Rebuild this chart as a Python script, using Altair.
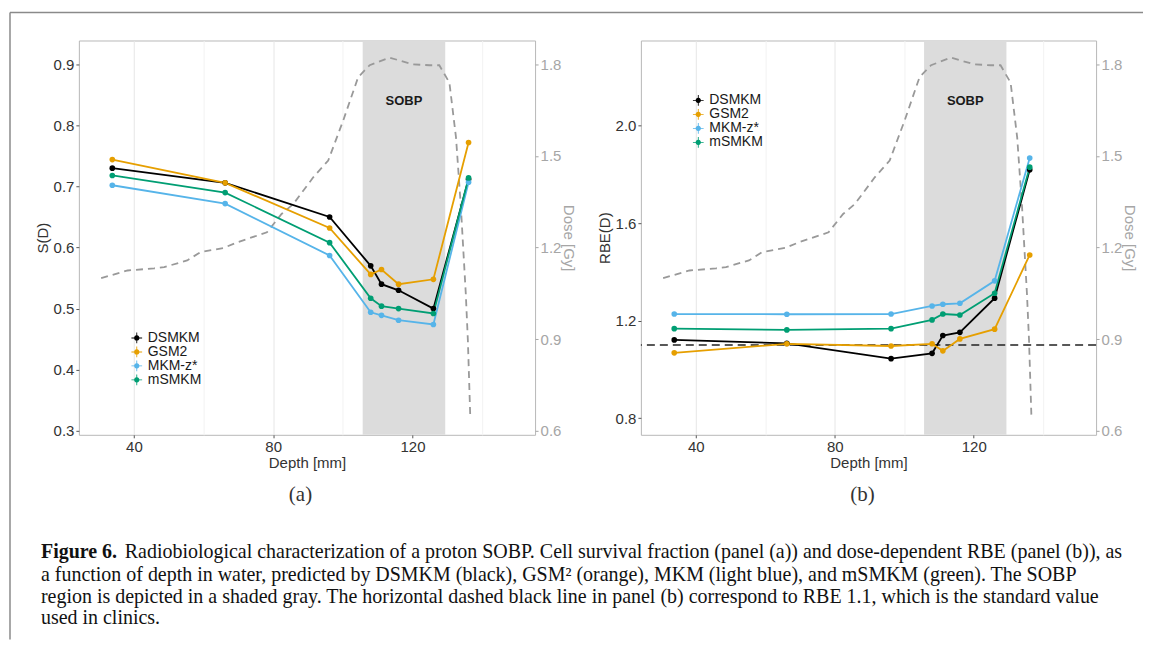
import altair as alt
import pandas as pd

# ---------------- data ----------------
models = ["DSMKM", "GSM2", "MKM-z*", "mSMKM"]
model_colors = ["#000000", "#E69F00", "#56B4E9", "#009E73"]

depth_mm = [33.8, 66.2, 96.2, 108.0, 111.1, 116.0, 126.0, 136.1]

survival_dsmkm = [0.730, 0.706, 0.650, 0.570, 0.540, 0.530, 0.500, 0.712]
survival_gsm2 = [0.744, 0.706, 0.632, 0.556, 0.564, 0.540, 0.548, 0.772]
survival_mkmz = [0.702, 0.672, 0.587, 0.494, 0.489, 0.481, 0.474, 0.707]
survival_msmkm = [0.718, 0.690, 0.608, 0.517, 0.504, 0.500, 0.492, 0.714]

rbe_dsmkm = [1.121, 1.107, 1.044, 1.066, 1.139, 1.152, 1.292, 1.818]
rbe_gsm2 = [1.068, 1.105, 1.096, 1.105, 1.076, 1.125, 1.165, 1.469]
rbe_mkmz = [1.227, 1.226, 1.227, 1.260, 1.267, 1.271, 1.363, 1.866]
rbe_msmkm = [1.167, 1.162, 1.167, 1.203, 1.227, 1.223, 1.312, 1.829]

dose_depth = [30.6, 38.2, 45.8, 48.7, 55.3, 59.1, 65.8, 69.6, 78.2, 82.4, 85.8,
              91.5, 95.8, 100.1, 104.4, 107.7, 113.4, 120.1, 124.9, 127.7,
              130.6, 132.5, 133.9, 135.3, 135.9, 136.6]
dose_gy = [1.100, 1.125, 1.132, 1.136, 1.158, 1.185, 1.199, 1.217, 1.250, 1.310, 1.343,
           1.430, 1.485, 1.616, 1.758, 1.797, 1.822, 1.800, 1.797, 1.797,
           1.740, 1.560, 1.332, 1.050, 0.897, 0.642]

sobp_start = [105.7]
sobp_end = [129.4]
sobp_label = ["SOBP"]
rbe_reference = [1.1]

x_grid_values = [40, 60, 80, 100, 120, 140]
s_grid_values = [0.30, 0.35, 0.40, 0.45, 0.50, 0.55, 0.60, 0.65, 0.70, 0.75, 0.80, 0.85, 0.90]
rbe_grid_values = [0.8, 1.0, 1.2, 1.4, 1.6, 1.8, 2.0, 2.2]
dose_tick_values = [0.6, 0.9, 1.2, 1.5, 1.8]

panel_labels = ["(a)", "(b)"]
caption_bold = ["Figure 6."]
caption_lines = [
    "Radiobiological characterization of a proton SOBP. Cell survival fraction (panel (a)) and dose-dependent RBE (panel (b)), as",
    "a function of depth in water, predicted by DSMKM (black), GSM\u00b2 (orange), MKM (light blue), and mSMKM (green). The SOBP",
    "region is depicted in a shaded gray. The horizontal dashed black line in panel (b) correspond to RBE 1.1, which is the standard value",
    "used in clinics.",
]

# ---------------- tables ----------------
def long_table(series):
    rows = []
    for m, vals in zip(models, series):
        for d, v in zip(depth_mm, vals):
            rows.append({"model": m, "depth": d, "value": v})
    return pd.DataFrame(rows)

surv_df = long_table([survival_dsmkm, survival_gsm2, survival_mkmz, survival_msmkm])
rbe_df = long_table([rbe_dsmkm, rbe_gsm2, rbe_mkmz, rbe_msmkm])
dose_df = pd.DataFrame({"depth": dose_depth, "dose": dose_gy})
sobp_df = pd.DataFrame({"start": sobp_start, "end": sobp_end, "label": sobp_label})
sobp_df["mid"] = (sobp_df["start"] + sobp_df["end"]) / 2
ref_df = pd.DataFrame({"rbe": rbe_reference})

W_A, W_B, H = 457, 456, 395
FONT = "Liberation Sans"
SERIF = "Liberation Serif"
X_DOMAIN = [24.2, 155.2]
DOSE_DOMAIN = [0.587, 1.878]

legend_path = ("M-0.08,-1L0.08,-1L0.08,-0.49A0.5,0.5,0,0,1,0.49,-0.08L1,-0.08L1,0.08L0.49,0.08"
               "A0.5,0.5,0,0,1,0.08,0.49L0.08,1L-0.08,1L-0.08,0.49A0.5,0.5,0,0,1,-0.49,0.08"
               "L-1,0.08L-1,-0.08L-0.49,-0.08A0.5,0.5,0,0,1,-0.08,-0.49Z")

x_test = "datum.value % 40 == 0"
x_axis = alt.Axis(
    values=x_grid_values,
    labelExpr=f"{x_test} ? datum.label : ''",
    tickOpacity={"condition": {"test": x_test, "value": 1}, "value": 0},
    gridColor={"condition": {"test": x_test, "value": "#e6e6e6"}, "value": "#f2f2f2"},
    title="Depth [mm]",
    titlePadding=1,
)


def x_enc(field):
    return alt.X(f"{field}:Q", scale=alt.Scale(domain=X_DOMAIN, nice=False, zero=False),
                 axis=x_axis, title="Depth [mm]")


def panel(df, width, y_title, y_domain, y_values, major_test, legend_x, legend_y,
          label_text, with_ref=False, extras=None):
    sobp_rect = alt.Chart(sobp_df).mark_rect(color="#dcdcdc").encode(
        x=x_enc("start"), x2="end:Q", y=alt.value(0), y2=alt.value(H))

    dose = alt.Chart(dose_df).mark_line(color="#999999", strokeDash=[7, 5],
                                         strokeWidth=1.8).encode(
        x=x_enc("depth"),
        y=alt.Y("dose:Q", scale=alt.Scale(domain=DOSE_DOMAIN, nice=False, zero=False),
                axis=alt.Axis(orient="right", values=dose_tick_values, format=".1f",
                              grid=False, labelColor="#a6a6a6", titleColor="#a6a6a6",
                              tickColor="#a6a6a6", title="Dose [Gy]", titlePadding=0),
                title="Dose [Gy]"))

    y_scale = alt.Scale(domain=y_domain, nice=False, zero=False)
    y_axis = alt.Axis(
        values=y_values,
        labelExpr=f"({major_test}) ? format(datum.value, '.1f') : ''",
        tickOpacity={"condition": {"test": major_test, "value": 1}, "value": 0},
        gridColor={"condition": {"test": major_test, "value": "#e6e6e6"}, "value": "#f2f2f2"},
        title=y_title, titlePadding=3)

    color_scale = alt.Scale(domain=models, range=model_colors)
    legend = alt.Legend(
        title=None, orient="none", legendX=legend_x, legendY=legend_y,
        symbolType=legend_path, symbolSize=115, symbolStrokeWidth=0,
        labelFontSize=14, labelFont=FONT, labelColor="#1a1a1a",
        rowPadding=0, padding=0, labelOffset=4)
    color = alt.Color("model:N", scale=color_scale, legend=legend)
    lines = alt.Chart(df).mark_line(strokeWidth=1.8).encode(
        x=x_enc("depth"),
        y=alt.Y("value:Q", scale=y_scale, axis=y_axis, title=y_title),
        color=color,
        order=alt.Order("depth:Q"))
    points = alt.Chart(df).mark_circle(size=32, opacity=1).encode(
        x=x_enc("depth"),
        y=alt.Y("value:Q", scale=y_scale, axis=y_axis, title=y_title),
        color=color)
    left_layers = [lines, points]
    if with_ref:
        ref = alt.Chart(ref_df).mark_rule(color="#222222", strokeDash=[8, 5],
                                          strokeWidth=1.7).encode(
            y=alt.Y("rbe:Q", scale=y_scale, axis=y_axis, title=y_title))
        left_layers.insert(0, ref)
    left_group = alt.layer(*left_layers)

    sobp_text = alt.Chart(sobp_df).mark_text(font=FONT, fontWeight="bold", fontSize=13,
                                              color="#1a1a1a").encode(
        x=x_enc("mid"), y=alt.value(61), text="label:N")

    lab = alt.Chart(pd.DataFrame({"t": [label_text]})).mark_text(
        font=SERIF, fontSize=21, color="#333333", baseline="middle").encode(
        x=alt.value(222), y=alt.value(455), text="t:N")

    layers = [sobp_rect, dose, left_group, sobp_text, lab]
    if extras:
        layers += extras
    return alt.layer(*layers).resolve_scale(y="independent").properties(width=width, height=H)


# frame + caption (decoration of the figure, drawn in panel (a)'s coordinates)
frame_df = pd.DataFrame({"k": [0]})
frame_top = alt.Chart(frame_df).mark_rule(color="#8a8a8a", strokeWidth=1.5).encode(
    x=alt.value(-69), x2=alt.value(1066), y=alt.value(-28))
frame_left = alt.Chart(frame_df).mark_rule(color="#8a8a8a", strokeWidth=1.5).encode(
    x=alt.value(-69), y=alt.value(-28), y2=alt.value(600))

CAP_X = -38
CAP_Y = [512, 535, 557, 579]
CAP_SIZE = 20
cap_bold = alt.Chart(pd.DataFrame({"t": caption_bold})).mark_text(
    font=SERIF, fontWeight="bold", fontSize=CAP_SIZE, align="left", baseline="middle",
    color="#111111").encode(x=alt.value(CAP_X), y=alt.value(CAP_Y[0]), text="t:N")
cap_layers = [frame_top, frame_left, cap_bold]
for i, line in enumerate(caption_lines):
    xoff = CAP_X + (84 if i == 0 else 0)
    cap_layers.append(alt.Chart(pd.DataFrame({"t": [line]})).mark_text(
        font=SERIF, fontSize=CAP_SIZE, align="left", baseline="middle",
        color="#111111").encode(x=alt.value(xoff), y=alt.value(CAP_Y[i]), text="t:N"))

s_test = "abs(datum.value*10 - round(datum.value*10)) < 0.01"
r_test = "abs((datum.value-0.8)/0.4 - round((datum.value-0.8)/0.4)) < 0.01"

panel_a = panel(surv_df, W_A, "S(D)", [0.2934, 0.939], s_grid_values, s_test,
                51, 291, panel_labels[0], extras=cap_layers)
panel_b = panel(rbe_df, W_B, "RBE(D)", [0.732, 2.348], rbe_grid_values, r_test,
                50.5, 53, panel_labels[1], with_ref=True)

chart = alt.hconcat(panel_a, panel_b, spacing=106, bounds="flush").resolve_scale(
    color="independent", x="independent", y="independent"
).resolve_legend(color="independent").properties(
    padding={"left": 0, "top": 2, "right": 0, "bottom": 0}, background="white"
).configure_view(stroke="#b8b8b8", strokeWidth=1).configure_axis(
    labelFont=FONT, titleFont=FONT, labelFontSize=15, titleFontSize=15,
    labelColor="#333333", titleColor="#333333", titleFontWeight="normal",
    tickColor="#555555", tickSize=3, labelPadding=2, domain=False, gridWidth=1
)

chart.save("out.html", embed_options={"renderer": "svg", "actions": False})
